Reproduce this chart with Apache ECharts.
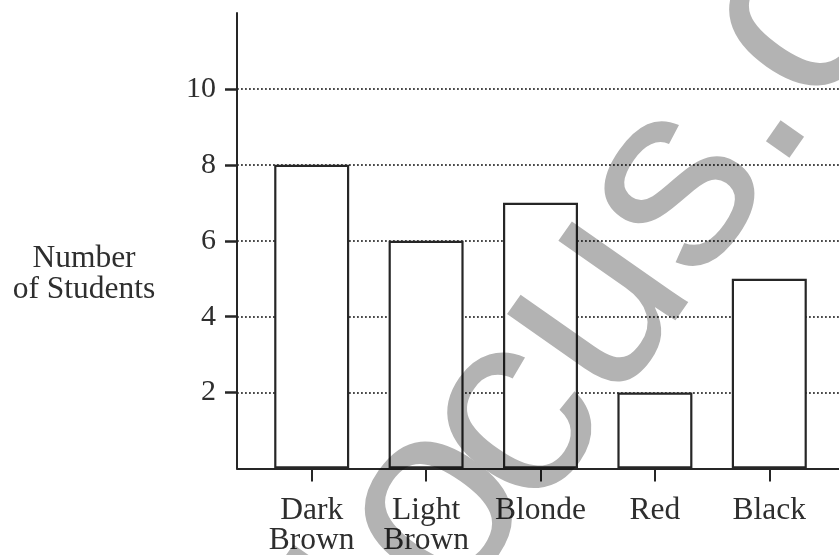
<!DOCTYPE html>
<html>
<head>
<meta charset="utf-8">
<style>
  html, body { margin: 0; padding: 0; background: #ffffff; }
  #wrap { position: relative; width: 839px; height: 555px; background: #ffffff; }
  #chart { position: absolute; left: 0; top: 0; width: 839px; height: 555px; }
  #mark { position: absolute; left: 0; top: 0; width: 839px; height: 555px; mix-blend-mode: multiply; pointer-events: none; }
</style>
<script src="https://cdn.jsdelivr.net/npm/echarts@6/dist/echarts.min.js"></script>
</head>
<body>
<div id="wrap">
  <div id="chart"></div>
  <div id="mark"></div>
</div>
<script>
const categories = ['Dark\nBrown', 'Light\nBrown', 'Blonde', 'Red', 'Black'];
const studentCounts = [8, 6, 7, 2, 5];
const yTickValues = [2, 4, 6, 8, 10];
const yMin = 0;
const yMax = 12;
const yAxisTitle = 'Number\nof Students';
const watermarkParts = ['F', 'o', 'cus.com'];

const SERIF = '"Liberation Serif", "DejaVu Serif", serif';
const INK = '#262626';
const TEXT = '#2e2e2e';
const TOP = 13, BOTTOM = 86.5;

const chart = echarts.init(document.getElementById('chart'), null, { renderer: 'canvas' });

chart.setOption({
  backgroundColor: '#ffffff',
  animation: false,
  grid: [
    { left: 237, right: 0, top: TOP, bottom: BOTTOM, containLabel: false, outerBoundsMode: 'none' },
    { left: 254.5, right: 12.5, top: TOP, bottom: BOTTOM, containLabel: false, outerBoundsMode: 'none' }
  ],
  xAxis: [
    {
      gridIndex: 0, type: 'value', min: 0, max: 1,
      axisLine: { show: true, onZero: false, lineStyle: { color: INK, width: 2 } },
      axisTick: { show: false }, axisLabel: { show: false }, splitLine: { show: false }
    },
    {
      gridIndex: 1, type: 'category', data: categories,
      axisLine: { show: false },
      axisTick: { show: true, interval: 0, alignWithLabel: true, length: 13, lineStyle: { color: INK, width: 2 } },
      axisLabel: {
        interval: 0, hideOverlap: false,
        margin: 27, color: TEXT, fontFamily: SERIF, fontSize: 31.5, lineHeight: 30
      },
      splitLine: { show: false }
    }
  ],
  yAxis: [
    {
      gridIndex: 0, type: 'value', min: yMin, max: yMax, interval: 2,
      axisLine: { show: true, onZero: false, lineStyle: { color: INK, width: 2 } },
      axisTick: { show: true, length: 12, customValues: yTickValues, lineStyle: { color: INK, width: 2.5 } },
      axisLabel: { margin: 21, color: TEXT, fontFamily: SERIF, fontSize: 30, customValues: yTickValues },
      splitLine: {
        show: true,
        lineStyle: { color: '#4a4a4a', width: 1.8, type: [1.8, 2.2] }
      }
    },
    {
      gridIndex: 1, type: 'value', min: yMin, max: yMax, interval: 2, show: false,
      splitLine: { show: false }
    }
  ],
  graphic: [
    {
      type: 'text', x: 84, y: 243,
      style: {
        text: yAxisTitle, font: '31.5px ' + SERIF, fill: TEXT,
        align: 'center', verticalAlign: 'top', lineHeight: 31
      },
      z: 10
    }
  ],
  series: [
    {
      type: 'bar', xAxisIndex: 1, yAxisIndex: 1,
      data: studentCounts, barWidth: 75,
      itemStyle: { color: '#ffffff', borderColor: INK, borderWidth: 2.2 },
      silent: true
    }
  ]
});

// Watermark overlay (multiplied over the chart, like the scanned original)
const WM_FONT = '268px "Liberation Sans", Arial, sans-serif';
const WM_ROT = 55 * Math.PI / 180;
const wmAnchors = [[406, 810], [503, 649], [585.4, 553.8]];
const mark = echarts.init(document.getElementById('mark'), null, { renderer: 'canvas' });
mark.setOption({
  backgroundColor: 'transparent',
  animation: false,
  graphic: watermarkParts.map((t, i) => ({
    type: 'text', x: wmAnchors[i][0], y: wmAnchors[i][1], rotation: WM_ROT,
    style: { text: t, font: WM_FONT, fill: '#b3b3b3', textAlign: 'left', textVerticalAlign: 'bottom' },
    silent: true
  }))
});
</script>
</body>
</html>
